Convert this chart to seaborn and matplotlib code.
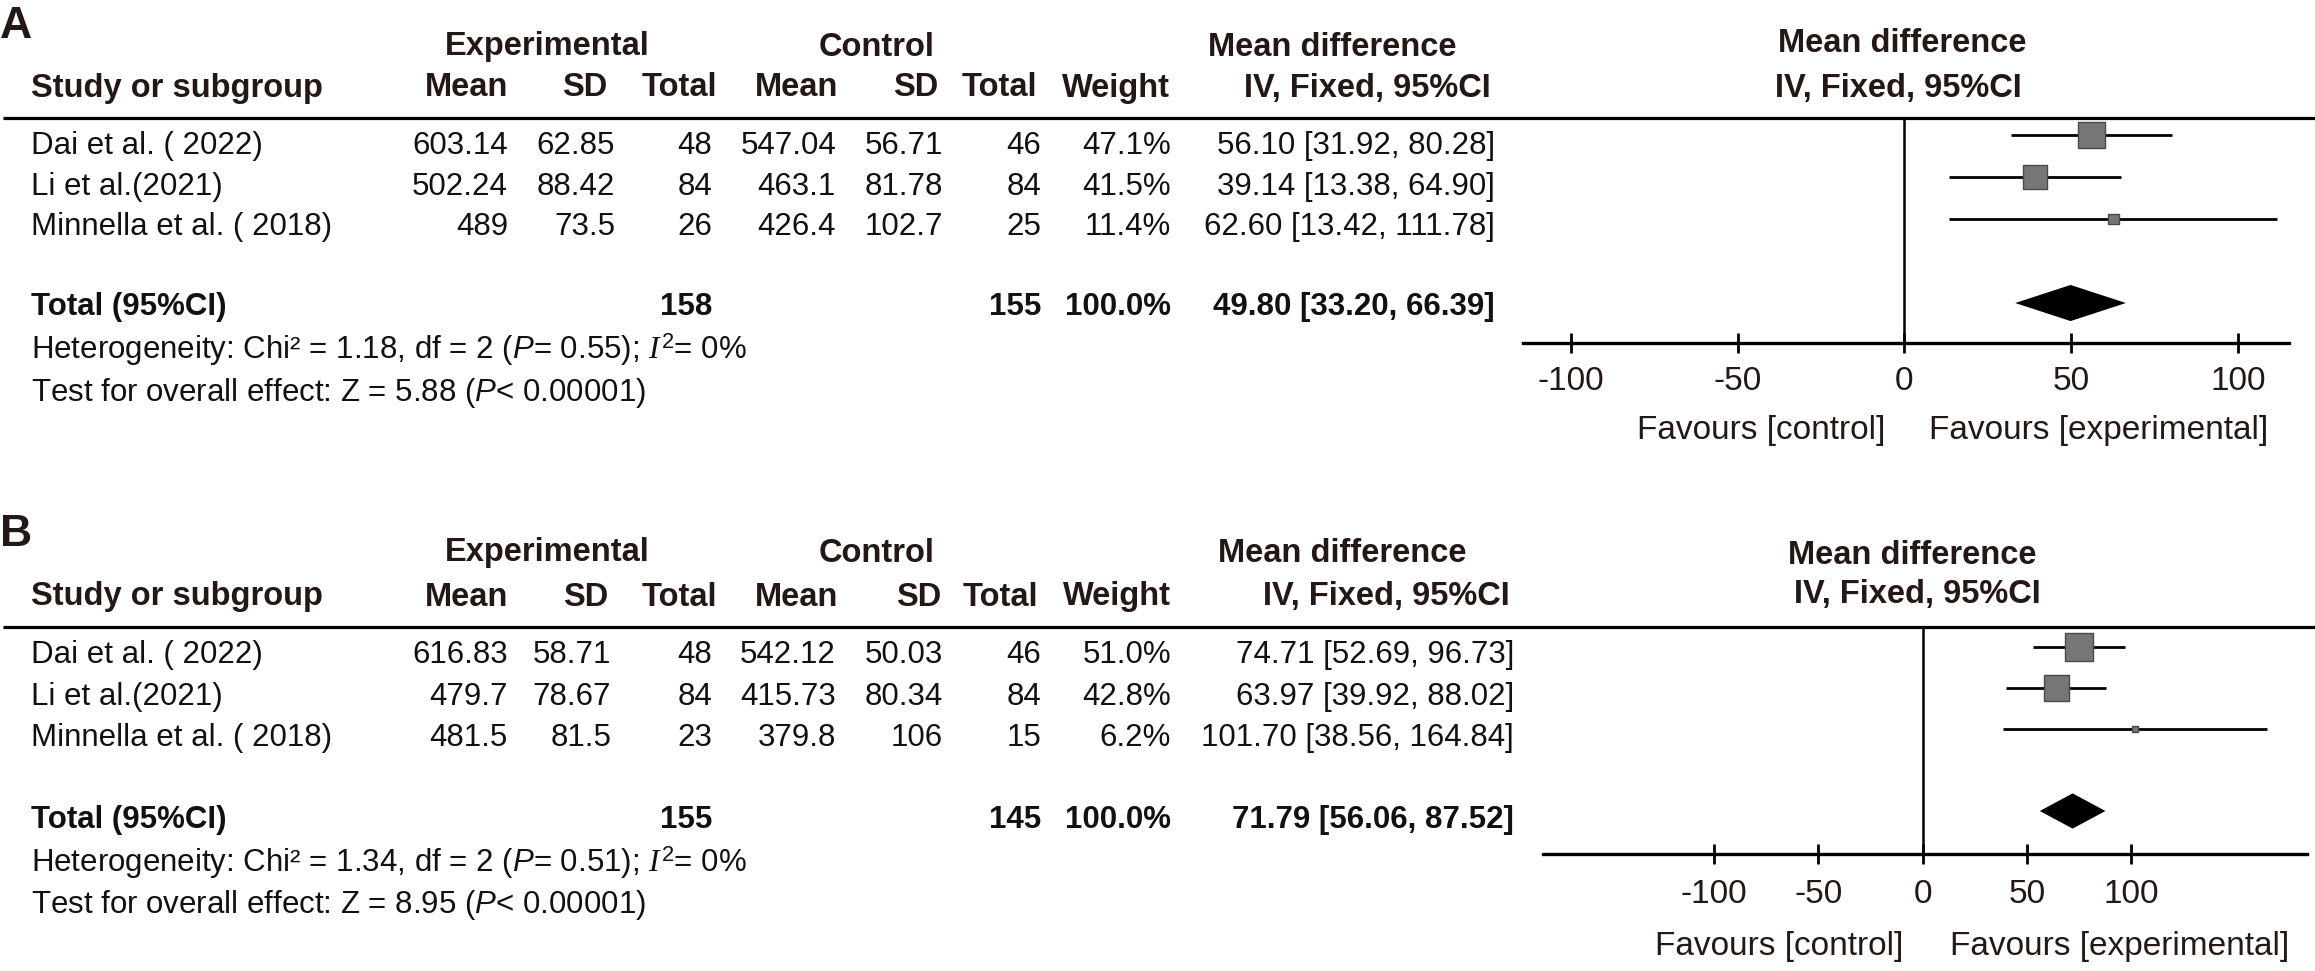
import numpy as np
import pandas as pd
import matplotlib
matplotlib.use('Agg')
import matplotlib.pyplot as plt
import seaborn as sns

W, H = 2315, 971

# ---- data ----
studies = ['Dai et al. ( 2022)', 'Li et al.(2021)', 'Minnella et al. ( 2018)']

# panel A
a_exp_mean = ['603.14', '502.24', '489']
a_exp_sd = ['62.85', '88.42', '73.5']
a_exp_n = [48, 84, 26]
a_ctl_mean = ['547.04', '463.1', '426.4']
a_ctl_sd = ['56.71', '81.78', '102.7']
a_ctl_n = [46, 84, 25]
a_weight = [47.1, 41.5, 11.4]
a_md = [56.10, 39.14, 62.60]
a_lo = [31.92, 13.38, 13.42]
a_hi = [80.28, 64.90, 111.78]
a_total = [158, 155]
a_pooled = [49.80, 33.20, 66.39]
a_het = 'Heterogeneity: Chi² = 1.18, df = 2 ($\\mathsf{P}$= 0.55); $\\mathit{I}^2$= 0%'
a_test = 'Test for overall effect: Z = 5.88 ($\\mathsf{P}$< 0.00001)'

# panel B
b_exp_mean = ['616.83', '479.7', '481.5']
b_exp_sd = ['58.71', '78.67', '81.5']
b_exp_n = [48, 84, 23]
b_ctl_mean = ['542.12', '415.73', '379.8']
b_ctl_sd = ['50.03', '80.34', '106']
b_ctl_n = [46, 84, 15]
b_weight = [51.0, 42.8, 6.2]
b_md = [74.71, 63.97, 101.70]
b_lo = [52.69, 39.92, 38.56]
b_hi = [96.73, 88.02, 164.84]
b_total = [155, 145]
b_pooled = [71.79, 56.06, 87.52]
b_het = 'Heterogeneity: Chi² = 1.34, df = 2 ($\\mathsf{P}$= 0.51); $\\mathit{I}^2$= 0%'
b_test = 'Test for overall effect: Z = 8.95 ($\\mathsf{P}$< 0.00001)'

ticks = [-100, -50, 0, 50, 100]

sns.set_theme(style='white')
plt.rcParams['font.family'] = ['Liberation Sans', 'DejaVu Sans']
plt.rcParams['mathtext.fontset'] = 'custom'
plt.rcParams['mathtext.rm'] = 'Liberation Sans'
plt.rcParams['mathtext.sf'] = 'Liberation Sans:italic'
plt.rcParams['mathtext.it'] = 'Liberation Serif:italic'

ROW = 22.5
HEAD = 23.5
TICK = 24
HDR_C = '#231815'
TXT_C = '#111111'


def make_df(exp_mean, exp_sd, exp_n, ctl_mean, ctl_sd, ctl_n, weight, md, lo, hi):
    return pd.DataFrame({
        'study': studies, 'exp_mean': exp_mean, 'exp_sd': exp_sd, 'exp_n': exp_n,
        'ctl_mean': ctl_mean, 'ctl_sd': ctl_sd, 'ctl_n': ctl_n,
        'weight': weight, 'md': md, 'lo': lo, 'hi': hi,
        'row': np.arange(len(studies)),
    })


panels = [
    dict(df=make_df(a_exp_mean, a_exp_sd, a_exp_n, a_ctl_mean, a_ctl_sd, a_ctl_n,
                    a_weight, a_md, a_lo, a_hi),
         total=a_total, pooled=a_pooled, het=a_het, test=a_test,
         label='A', label_y=27, h1_y=47, h2_y=88, rule_y=118,
         h1_x=[547, 877, 1332], h2_x=[508, 607, 717, 838, 938, 1037, 1170, 1491],
         rows_y=[146, 187, 227], total_y=307, het_y=350, test_y=393,
         cols=[508, 615, 712, 836, 943, 1041, 1171, 1495],
         box=(1523, 2289, 118, 343), xlim=(-114.4, 115.3), ylim=(4.952, -0.405),
         pad=9.5, rh=[(1902, 43), (1898, 88)], fav_y=430, fav_x=(1885, 1929)),
    dict(df=make_df(b_exp_mean, b_exp_sd, b_exp_n, b_ctl_mean, b_ctl_sd, b_ctl_n,
                    b_weight, b_md, b_lo, b_hi),
         total=b_total, pooled=b_pooled, het=b_het, test=b_test,
         label='B', label_y=535, h1_y=553, h2_y=597, rule_y=627,
         h1_x=[547, 877, 1342], h2_x=[508, 608, 717, 838, 941, 1038, 1171, 1510],
         rows_y=[655, 697, 738], total_y=820, het_y=863, test_y=905,
         cols=[508, 611, 712, 836, 943, 1041, 1171, 1514],
         box=(1543, 2307, 627, 854), xlim=(-182.0, 184.1), ylim=(5.049, -0.488),
         pad=11, rh=[(1912, 555), (1917, 595)], fav_y=947, fav_x=(1903, 1950)),
]

fig = plt.figure(figsize=(W / 100, H / 100), dpi=100)
bg = fig.add_axes([0, 0, 1, 1])
bg.set_xlim(0, W)
bg.set_ylim(H, 0)
bg.axis('off')


def head(x, y, s, ha='center', size=HEAD):
    bg.text(x, y, s, ha=ha, va='center', fontsize=size, fontweight='bold', color=HDR_C)


def cell(x, y, s, ha='right', bold=False):
    bg.text(x, y, s, ha=ha, va='center', fontsize=ROW,
            fontweight='bold' if bold else 'normal', color=TXT_C)


for p in panels:
    df = p['df']
    head(0, p['label_y'], p['label'], ha='left', size=32)
    for x, s in zip(p['h1_x'], ['Experimental', 'Control', 'Mean difference']):
        head(x, p['h1_y'], s)
    head(31, p['h2_y'], 'Study or subgroup', ha='left')
    h2 = ['Mean', 'SD', 'Total', 'Mean', 'SD', 'Total', 'Weight', 'IV, Fixed, 95%CI']
    for x, s in zip(p['h2_x'], h2):
        head(x, p['h2_y'], s, ha='right')
    for (x, y), s in zip(p['rh'], ['Mean difference', 'IV, Fixed, 95%CI']):
        head(x, y, s)

    # rule under the headers
    bg.plot([3, W], [p['rule_y'], p['rule_y']], color='black', lw=2.3,
            solid_capstyle='butt')

    c = p['cols']
    for i, r in df.iterrows():
        y = p['rows_y'][i]
        cell(31, y, r['study'], ha='left')
        vals = [r['exp_mean'], r['exp_sd'], str(r['exp_n']), r['ctl_mean'], r['ctl_sd'],
                str(r['ctl_n']), f"{r['weight']:.1f}%",
                f"{r['md']:.2f} [{r['lo']:.2f}, {r['hi']:.2f}]"]
        for x, s in zip(c, vals):
            cell(x, y, s)

    ty = p['total_y']
    cell(31, ty, 'Total (95%CI)', ha='left', bold=True)
    cell(c[2], ty, str(p['total'][0]), bold=True)
    cell(c[5], ty, str(p['total'][1]), bold=True)
    cell(c[6], ty, '100.0%', bold=True)
    pm, pl, ph = p['pooled']
    cell(c[7], ty, f'{pm:.2f} [{pl:.2f}, {ph:.2f}]', bold=True)
    cell(31, p['het_y'], p['het'], ha='left')
    cell(31, p['test_y'], p['test'], ha='left')

    # forest plot
    x0, x1, yt, yb = p['box']
    ax = fig.add_axes([x0 / W, 1 - yb / H, (x1 - x0) / W, (yb - yt) / H])
    ax.set_facecolor('none')
    ax.hlines(df['row'], df['lo'], df['hi'], color='black', lw=2.0, zorder=2)
    sns.scatterplot(data=df, x='md', y='row', size='weight', sizes=(8, 430),
                    size_norm=(5, 55), marker='s', color='#767676',
                    edgecolor='#4a4a4a', linewidth=1.0, legend=False, ax=ax, zorder=3)
    dy = 0.43
    ax.fill([pl, pm, ph, pm], [4, 4 - dy, 4, 4 + dy], color='black', lw=0, zorder=3)
    ax.axvline(0, color='black', lw=1.8, zorder=1)
    ax.set_xlim(*p['xlim'])
    ax.set_ylim(*p['ylim'])
    for side in ['top', 'left', 'right']:
        ax.spines[side].set_visible(False)
    ax.spines['bottom'].set_visible(True)
    ax.spines['bottom'].set_color('black')
    ax.spines['bottom'].set_linewidth(2.4)
    ax.set_yticks([])
    ax.set_xticks(ticks)
    ax.set_xticklabels([str(t) for t in ticks])
    ax.tick_params(axis='x', direction='inout', length=14, width=2.0, color='black',
                   labelsize=TICK, labelcolor=HDR_C, pad=p['pad'], bottom=True)
    ax.set_xlabel('')
    ax.set_ylabel('')

    bg.text(p['fav_x'][0], p['fav_y'], 'Favours [control]', ha='right', va='center',
            fontsize=TICK, color=HDR_C)
    bg.text(p['fav_x'][1], p['fav_y'], 'Favours [experimental]', ha='left', va='center',
            fontsize=TICK, color=HDR_C)

fig.savefig('out.png', dpi=100, facecolor='white')
